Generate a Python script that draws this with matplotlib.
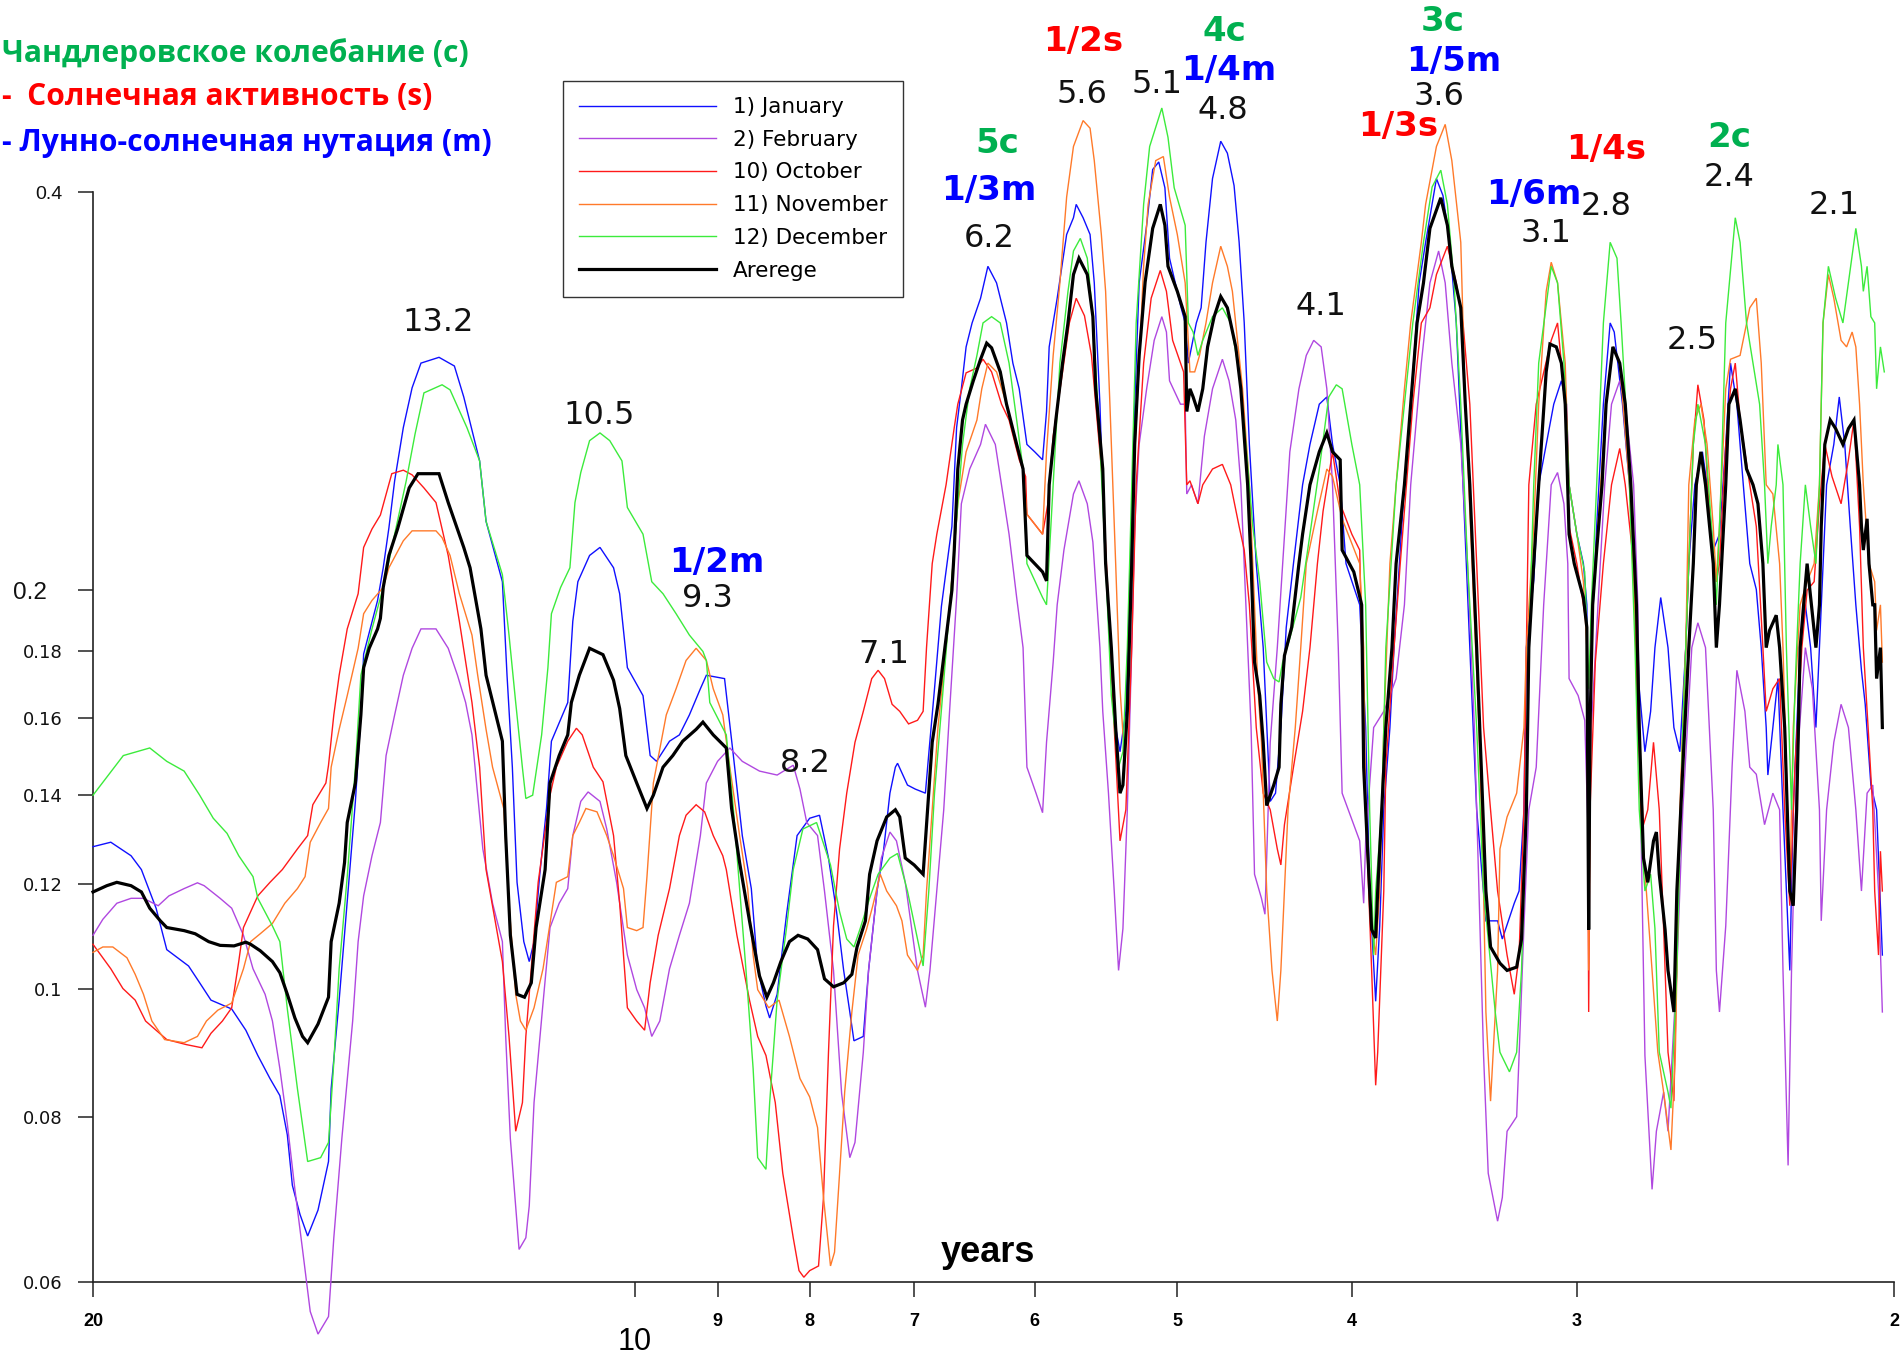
import matplotlib
matplotlib.use("Agg")
import matplotlib.pyplot as plt
from matplotlib.ticker import NullLocator

# ---------------- data (period in years, amplitude) ----------------
jan_period = [20, 19.55, 19.05, 18.8, 18.45, 18.2, 17.7, 17.45, 17.2, 16.75, 16.45, 16.2, 15.95, 15.75, 15.6, 15.5, 15.35, 15.2, 15.0, 14.8, 14.75, 14.6, 14.45, 14.3, 14.2, 14.15, 13.9, 13.8, 13.7, 13.6, 13.45, 13.3, 13.15, 12.85, 12.6,
              12.45, 12.2, 12.1, 11.85, 11.78, 11.7, 11.63, 11.53, 11.45, 11.38, 11.3, 11.2, 11.13, 10.9, 10.83, 10.76, 10.6, 10.46, 10.28, 10.2, 10.1, 9.9, 9.81, 9.73, 9.57, 9.45, 9.33, 9.2, 9.13, 8.92, 8.82, 8.72, 8.62, 8.55, 8.46, 8.42, 8.34, 8.24, 8.13, 8.0, 7.9,
              7.81, 7.73, 7.66, 7.6, 7.56, 7.47, 7.42, 7.34, 7.28, 7.22, 7.17, 7.15, 7.06, 6.99, 6.9, 6.87, 6.82, 6.76, 6.67, 6.63, 6.59, 6.55, 6.5, 6.43, 6.37, 6.3, 6.22, 6.17, 6.12, 6.06, 6.0, 5.94, 5.91, 5.89, 5.83, 5.76, 5.71, 5.69, 5.64, 5.59, 5.56, 5.52, 5.49, 5.45, 5.41, 5.38, 5.34, 5.3, 5.28, 5.25, 5.2, 5.16, 5.12, 5.08, 5.05, 4.98,
              4.95, 4.93, 4.91, 4.88, 4.85, 4.82, 4.78, 4.73, 4.69, 4.65, 4.62, 4.59, 4.56, 4.52, 4.48, 4.44, 4.41, 4.38, 4.35, 4.31, 4.26, 4.22, 4.17, 4.13, 4.1, 4.06, 4.03, 3.96, 3.93, 3.91, 3.88, 3.86, 3.84, 3.81, 3.79, 3.74, 3.71, 3.67, 3.64, 3.59, 3.56, 3.53, 3.5, 3.47, 3.44, 3.41, 3.37, 3.32, 3.3, 3.25, 3.23, 3.21, 3.2, 3.17, 3.15,
              3.12, 3.09, 3.06, 3.04, 3.03, 3.0, 2.975, 2.962, 2.955, 2.945, 2.925, 2.9, 2.875, 2.86, 2.83, 2.805, 2.785, 2.77, 2.75, 2.73, 2.715, 2.695, 2.67, 2.65, 2.63, 2.61, 2.6, 2.58, 2.555, 2.54, 2.52, 2.5, 2.48, 2.465, 2.445, 2.425, 2.405, 2.385, 2.37, 2.355, 2.35, 2.335, 2.32, 2.305, 2.285, 2.275, 2.255, 2.24, 2.225, 2.21, 2.2, 2.18, 2.16, 2.145, 2.13, 2.115, 2.1, 2.085, 2.075, 2.06, 2.045, 2.03]
jan_value = [0.128, 0.129, 0.126, 0.123, 0.115, 0.107, 0.104, 0.101, 0.098, 0.0965, 0.093, 0.089, 0.0855, 0.083, 0.0775, 0.071, 0.0675, 0.065, 0.068, 0.074, 0.084, 0.098, 0.1165, 0.1385, 0.161, 0.179, 0.1965, 0.208, 0.223, 0.242, 0.2655, 0.2845, 0.297, 0.300, 0.2955,
             0.28, 0.2505, 0.2255, 0.203, 0.1725, 0.147, 0.1203, 0.1085, 0.1048, 0.1085, 0.1215, 0.1368, 0.1538, 0.1645, 0.1895, 0.203, 0.2125, 0.2155, 0.208, 0.1988, 0.1748, 0.1665, 0.150, 0.1485, 0.1538, 0.1555, 0.161, 0.1685, 0.1725, 0.1715, 0.150, 0.1305, 0.119, 0.1035, 0.097, 0.095, 0.099, 0.1138, 0.1305, 0.1345, 0.1352,
             0.1255, 0.1143, 0.1032, 0.096, 0.0913, 0.092, 0.1032, 0.1185, 0.127, 0.1405, 0.147, 0.148, 0.1425, 0.1415, 0.1405, 0.1505, 0.1685, 0.1945, 0.2235, 0.2655, 0.284, 0.3055, 0.3185, 0.3325, 0.3515, 0.3415, 0.3185, 0.297, 0.284, 0.2578, 0.2545, 0.251, 0.273, 0.3055, 0.3325, 0.3715, 0.3825, 0.3915, 0.3825, 0.3715, 0.3415, 0.2765, 0.2205, 0.181, 0.1575, 0.151, 0.162, 0.2235, 0.2765, 0.3415, 0.3775, 0.416, 0.4215, 0.403, 0.3565, 0.3285,
             0.3185, 0.297, 0.3055, 0.3185, 0.327, 0.3665, 0.4095, 0.437, 0.428, 0.4045, 0.3665, 0.3185, 0.2578, 0.2095, 0.181, 0.1385, 0.1405, 0.1575, 0.1875, 0.2095, 0.2403, 0.2578, 0.2765, 0.28, 0.2578, 0.2403, 0.2095, 0.195, 0.1575, 0.1185, 0.0978, 0.1115, 0.1365, 0.1575, 0.181, 0.2403, 0.2765, 0.3415, 0.3665, 0.4095, 0.3975, 0.3665, 0.3185, 0.2403, 0.181, 0.1365, 0.1125, 0.1125, 0.109, 0.116, 0.1185, 0.1365, 0.181, 0.2035, 0.2403,
             0.2578, 0.2765, 0.288, 0.2765, 0.2403, 0.2205, 0.2095, 0.195, 0.1365, 0.181, 0.2235, 0.2765, 0.3185, 0.3135, 0.2765, 0.2403, 0.2095, 0.1685, 0.151, 0.162, 0.181, 0.1975, 0.181, 0.1575, 0.151, 0.181, 0.2095, 0.2403, 0.2545, 0.2403, 0.2145, 0.2205, 0.2578, 0.297, 0.2765, 0.2403, 0.2095, 0.2003, 0.181, 0.1575, 0.145, 0.1575, 0.1715, 0.1365, 0.1032, 0.1365, 0.181, 0.195, 0.181, 0.1575, 0.181, 0.2403, 0.2578, 0.28, 0.2578, 0.2235, 0.195, 0.174, 0.164, 0.1425, 0.1365, 0.106]

feb_period = [20, 19.75, 19.4, 19.05, 18.75, 18.4, 18.15, 17.8, 17.5, 17.35, 17.0, 16.75, 16.5, 16.3, 16.05, 15.9, 15.75, 15.6, 15.45, 15.3, 15.15, 15.0, 14.8, 14.7, 14.55, 14.35, 14.25, 14.15, 14.0, 13.85, 13.75, 13.6, 13.45, 13.3, 13.15, 12.9, 12.7, 12.55,
              12.42, 12.32, 12.15, 12.0, 11.85, 11.8, 11.73, 11.6, 11.5, 11.45, 11.38, 11.25, 11.15, 11.02, 10.9, 10.83, 10.72, 10.62, 10.46, 10.37, 10.24, 10.1, 9.98, 9.88, 9.79, 9.69, 9.57, 9.45, 9.33, 9.2, 9.13, 9.0, 8.86, 8.72, 8.53, 8.34, 8.17, 8.1, 8.03, 7.92, 7.85,
              7.76, 7.68, 7.6, 7.55, 7.47, 7.42, 7.34, 7.3, 7.22, 7.16, 7.08, 6.97, 6.9, 6.86, 6.8, 6.74, 6.69, 6.63, 6.59, 6.52, 6.43, 6.39, 6.31, 6.26, 6.2, 6.14, 6.09, 6.06, 5.99, 5.94, 5.91, 5.86, 5.83, 5.78, 5.71, 5.67, 5.61, 5.57, 5.52, 5.5, 5.46, 5.42, 5.39, 5.36, 5.33, 5.3, 5.28, 5.25, 5.2, 5.15, 5.1, 5.07, 5.05, 4.98,
              4.95, 4.94, 4.91, 4.87, 4.83, 4.78, 4.72, 4.68, 4.64, 4.61, 4.58, 4.55, 4.53, 4.49, 4.47, 4.44, 4.4, 4.37, 4.33, 4.28, 4.24, 4.2, 4.16, 4.13, 4.1, 4.07, 4.05, 3.99, 3.96, 3.94, 3.93, 3.89, 3.84, 3.81, 3.78, 3.74, 3.71, 3.66, 3.62, 3.58, 3.55, 3.52, 3.48, 3.45, 3.42, 3.4, 3.38, 3.36, 3.32, 3.3, 3.28, 3.24, 3.23, 3.21, 3.19, 3.16, 3.13, 3.1,
              3.075, 3.05, 3.035, 3.03, 2.995, 2.97, 2.955, 2.945, 2.92, 2.895, 2.87, 2.84, 2.82, 2.79, 2.775, 2.765, 2.75, 2.725, 2.71, 2.685, 2.67, 2.64, 2.62, 2.59, 2.57, 2.545, 2.52, 2.51, 2.5, 2.48, 2.46, 2.445, 2.42, 2.405, 2.385, 2.36, 2.335, 2.315, 2.305, 2.29, 2.28, 2.265, 2.24, 2.22, 2.2, 2.195, 2.18, 2.16, 2.14, 2.12, 2.1, 2.085, 2.07, 2.055, 2.04, 2.03]
feb_value = [0.1097, 0.1128, 0.116, 0.117, 0.117, 0.1155, 0.1175, 0.119, 0.1202, 0.1196, 0.117, 0.115, 0.1097, 0.1035, 0.099, 0.0945, 0.087, 0.079, 0.0705, 0.0635, 0.057, 0.0548, 0.0565, 0.0648, 0.077, 0.0945, 0.1085, 0.1175, 0.126, 0.1335, 0.150, 0.161, 0.1725, 0.1808, 0.187, 0.187, 0.1808, 0.1725,
             0.1645, 0.1555, 0.1275, 0.116, 0.1085, 0.092, 0.077, 0.0635, 0.0648, 0.0685, 0.082, 0.0975, 0.1112, 0.116, 0.119, 0.1305, 0.1385, 0.1408, 0.1385, 0.132, 0.1203, 0.106, 0.0998, 0.0967, 0.092, 0.0945, 0.1035, 0.1097, 0.116, 0.1305, 0.143, 0.1485, 0.152, 0.1485, 0.146, 0.145, 0.1475, 0.1415, 0.1335, 0.1305, 0.1185,
             0.1032, 0.0833, 0.0745, 0.0765, 0.0895, 0.1032, 0.1185, 0.1255, 0.1313, 0.1293, 0.1203, 0.1032, 0.0968, 0.1032, 0.1185, 0.1365, 0.162, 0.1975, 0.2325, 0.247, 0.2578, 0.267, 0.2578, 0.2403, 0.2205, 0.1975, 0.181, 0.147, 0.1405, 0.1358, 0.1535, 0.1765, 0.195, 0.2145, 0.2365, 0.242, 0.2325, 0.2175, 0.181, 0.162, 0.1405, 0.1185, 0.1032, 0.111, 0.1365, 0.181, 0.2235, 0.2578, 0.284, 0.309, 0.322, 0.3135, 0.288, 0.2765,
             0.2765, 0.2365, 0.2403, 0.2325, 0.2615, 0.284, 0.299, 0.288, 0.269, 0.2403, 0.195, 0.1575, 0.122, 0.117, 0.1138, 0.1535, 0.181, 0.2095, 0.2545, 0.284, 0.301, 0.309, 0.3055, 0.284, 0.2403, 0.181, 0.1405, 0.133, 0.1293, 0.116, 0.1293, 0.1575, 0.162, 0.1665, 0.1715, 0.195, 0.2403, 0.297, 0.3415, 0.361, 0.3415, 0.297, 0.2578, 0.2095, 0.1575, 0.1185, 0.089, 0.0725, 0.0667, 0.0695, 0.078, 0.080, 0.089, 0.1115, 0.1365, 0.147, 0.195, 0.2403,
             0.2455, 0.2325, 0.2095, 0.1715, 0.1665, 0.1595, 0.127, 0.1575, 0.195, 0.2403, 0.2765, 0.288, 0.2765, 0.2403, 0.195, 0.1365, 0.089, 0.0705, 0.078, 0.0835, 0.078, 0.1032, 0.1365, 0.181, 0.189, 0.181, 0.1365, 0.1032, 0.096, 0.1115, 0.147, 0.174, 0.162, 0.147, 0.1452, 0.133, 0.1405, 0.1365, 0.1032, 0.0735, 0.1032, 0.147, 0.181, 0.1685, 0.1365, 0.1125, 0.1365, 0.1535, 0.164, 0.1575, 0.1365, 0.1185, 0.1405, 0.1425, 0.1185, 0.096]

oct_period = [20, 19.55, 19.25, 18.95, 18.7, 18.45, 18.2, 17.75, 17.4, 17.2, 16.95, 16.75, 16.6, 16.5, 16.2, 15.95, 15.7, 15.4, 15.2, 15.1, 14.85, 14.8, 14.7, 14.6, 14.45, 14.25, 14.15, 14.0, 13.85, 13.65, 13.45, 13.3, 13.1, 12.9, 12.7,
              12.52, 12.32, 12.2, 12.1, 11.85, 11.75, 11.65, 11.55, 11.5, 11.42, 11.32, 11.15, 11.06, 10.9, 10.78, 10.7, 10.55, 10.42, 10.28, 10.2, 10.1, 9.98, 9.88, 9.81, 9.71, 9.57, 9.45, 9.37, 9.25, 9.15, 9.05, 8.94, 8.9, 8.78, 8.64, 8.55, 8.46, 8.36, 8.28, 8.17, 8.11, 8.06,
              8.0, 7.91, 7.86, 7.81, 7.76, 7.7, 7.63, 7.55, 7.47, 7.39, 7.33, 7.27, 7.2, 7.13, 7.05, 6.97, 6.92, 6.89, 6.84, 6.8, 6.72, 6.65, 6.62, 6.55, 6.46, 6.41, 6.34, 6.26, 6.2, 6.12, 6.07, 6.06, 5.94, 5.9, 5.86, 5.79, 5.74, 5.69, 5.63, 5.58, 5.55, 5.5, 5.46, 5.42, 5.38, 5.34, 5.3, 5.27, 5.22, 5.17, 5.11, 5.07, 5.03, 4.96,
              4.94, 4.92, 4.87, 4.84, 4.78, 4.72, 4.67, 4.62, 4.59, 4.56, 4.52, 4.48, 4.44, 4.4, 4.38, 4.36, 4.31, 4.26, 4.22, 4.18, 4.15, 4.1, 4.06, 4.0, 3.96, 3.95, 3.93, 3.9, 3.88, 3.87, 3.84, 3.83, 3.79, 3.76, 3.73, 3.7, 3.66, 3.62, 3.59, 3.54, 3.5, 3.47, 3.44, 3.41, 3.38, 3.35, 3.32, 3.28, 3.25, 3.23, 3.21, 3.2, 3.19, 3.16, 3.1,
              3.075, 3.045, 3.03, 3.0, 2.975, 2.962, 2.955, 2.95, 2.93, 2.9, 2.87, 2.84, 2.82, 2.79, 2.775, 2.755, 2.74, 2.72, 2.7, 2.685, 2.67, 2.65, 2.635, 2.62, 2.6, 2.585, 2.57, 2.55, 2.53, 2.51, 2.5, 2.48, 2.465, 2.45, 2.435, 2.405, 2.385, 2.365, 2.355, 2.335, 2.315, 2.3, 2.285, 2.27, 2.25, 2.235, 2.215, 2.2, 2.185, 2.165, 2.14, 2.12, 2.105, 2.09, 2.08, 2.065, 2.055, 2.05, 2.04, 2.035, 2.03]
oct_value = [0.108, 0.1035, 0.100, 0.098, 0.0945, 0.093, 0.0915, 0.0907, 0.0902, 0.0925, 0.0945, 0.0967, 0.1048, 0.1112, 0.1175, 0.1203, 0.123, 0.1275, 0.1305, 0.1377, 0.143, 0.1475, 0.161, 0.1725, 0.187, 0.1988, 0.2155, 0.2225, 0.228, 0.245, 0.2465, 0.2445, 0.239, 0.233, 0.2125,
             0.1895, 0.1645, 0.147, 0.123, 0.1048, 0.092, 0.078, 0.082, 0.092, 0.1035, 0.1203, 0.14, 0.147, 0.1538, 0.1573, 0.1555, 0.147, 0.1433, 0.1305, 0.116, 0.0967, 0.0945, 0.093, 0.101, 0.1097, 0.119, 0.1305, 0.1352, 0.1377, 0.136, 0.1305, 0.126, 0.123, 0.1097, 0.098, 0.092, 0.089, 0.082, 0.0725, 0.0648, 0.0612, 0.0605,
             0.0612, 0.0617, 0.0695, 0.0895, 0.1115, 0.1275, 0.1405, 0.1535, 0.162, 0.1715, 0.174, 0.1715, 0.164, 0.162, 0.1585, 0.1595, 0.162, 0.181, 0.2095, 0.2205, 0.2403, 0.2655, 0.2765, 0.292, 0.2945, 0.299, 0.2925, 0.2765, 0.269, 0.251, 0.2438, 0.2283, 0.2205, 0.2325, 0.2615, 0.2925, 0.3185, 0.3325, 0.3225, 0.301, 0.2765, 0.2403, 0.195, 0.1575, 0.1293, 0.1365, 0.181, 0.2403, 0.297, 0.3325, 0.349, 0.3365, 0.309, 0.2925,
             0.2403, 0.242, 0.2325, 0.2403, 0.247, 0.249, 0.2403, 0.2235, 0.2145, 0.195, 0.1575, 0.1405, 0.1365, 0.1275, 0.124, 0.133, 0.147, 0.162, 0.181, 0.2095, 0.2295, 0.2545, 0.2325, 0.2205, 0.2145, 0.181, 0.1365, 0.1032, 0.0845, 0.0895, 0.1185, 0.147, 0.181, 0.2095, 0.2403, 0.2765, 0.3185, 0.327, 0.3465, 0.364, 0.3415, 0.3185, 0.2765, 0.2095, 0.1575, 0.1365, 0.1185, 0.106, 0.099, 0.106, 0.1365, 0.181, 0.2403, 0.2765, 0.309,
             0.3185, 0.2765, 0.2235, 0.2095, 0.195, 0.1875, 0.096, 0.1365, 0.1765, 0.2095, 0.2403, 0.256, 0.2403, 0.2095, 0.1575, 0.133, 0.1365, 0.1535, 0.1365, 0.111, 0.0895, 0.0822, 0.1185, 0.1575, 0.2095, 0.2578, 0.286, 0.269, 0.2235, 0.203, 0.2095, 0.2578, 0.284, 0.297, 0.269, 0.2403, 0.2235, 0.181, 0.162, 0.1685, 0.1715, 0.1365, 0.1155, 0.147, 0.181, 0.2, 0.203, 0.2325, 0.2578, 0.2438, 0.2325, 0.251, 0.269, 0.2235, 0.181, 0.1535, 0.1365, 0.1185, 0.106, 0.127, 0.1185]

nov_period = [20, 19.75, 19.5, 19.15, 18.95, 18.75, 18.55, 18.25, 17.8, 17.5, 17.3, 17.05, 16.75, 16.5, 16.35, 16.15, 15.9, 15.65, 15.4, 15.25, 15.15, 14.95, 14.8, 14.75, 14.6, 14.45, 14.25, 14.15, 14.0, 13.8, 13.7, 13.45, 13.3, 12.9, 12.8,
              12.67, 12.52, 12.32, 12.23, 12.1, 12.0, 11.83, 11.75, 11.65, 11.58, 11.5, 11.38, 11.25, 11.15, 11.06, 10.9, 10.83, 10.74, 10.65, 10.5, 10.37, 10.28, 10.15, 10.1, 9.98, 9.9, 9.85, 9.77, 9.61, 9.49, 9.37, 9.25, 9.13, 9.05, 8.94, 8.86, 8.75, 8.66, 8.6, 8.55, 8.43, 8.32, 8.21, 8.1, 8.0, 7.92,
              7.86, 7.79, 7.75, 7.7, 7.65, 7.58, 7.52, 7.44, 7.38, 7.31, 7.25, 7.16, 7.11, 7.06, 6.97, 6.92, 6.89, 6.84, 6.79, 6.72, 6.66, 6.62, 6.55, 6.46, 6.42, 6.37, 6.3, 6.22, 6.14, 6.09, 6.06, 5.94, 5.91, 5.86, 5.81, 5.76, 5.71, 5.64, 5.59, 5.56, 5.51, 5.48, 5.45, 5.41, 5.38, 5.35, 5.33, 5.29, 5.25, 5.22, 5.19, 5.14, 5.09, 5.05, 5.0, 4.95,
              4.92, 4.89, 4.86, 4.82, 4.78, 4.73, 4.69, 4.66, 4.6, 4.56, 4.54, 4.51, 4.49, 4.46, 4.43, 4.4, 4.38, 4.36, 4.34, 4.3, 4.27, 4.24, 4.18, 4.13, 4.1, 4.05, 3.96, 3.94, 3.93, 3.9, 3.88, 3.86, 3.84, 3.81, 3.78, 3.74, 3.71, 3.66, 3.64, 3.59, 3.55, 3.52, 3.48, 3.46, 3.43, 3.4, 3.38, 3.37, 3.35, 3.32, 3.31, 3.28, 3.24, 3.21, 3.2, 3.17, 3.15,
              3.12, 3.1, 3.075, 3.045, 3.03, 3.0, 2.975, 2.962, 2.955, 2.947, 2.94, 2.91, 2.89, 2.865, 2.84, 2.805, 2.78, 2.765, 2.745, 2.725, 2.705, 2.685, 2.66, 2.645, 2.63, 2.61, 2.6, 2.58, 2.56, 2.54, 2.52, 2.51, 2.5, 2.48, 2.465, 2.435, 2.405, 2.385, 2.37, 2.355, 2.335, 2.315, 2.305, 2.285, 2.275, 2.255, 2.235, 2.215, 2.2, 2.19, 2.175, 2.16, 2.14, 2.125, 2.11, 2.1, 2.09, 2.08, 2.065, 2.05, 2.045, 2.035, 2.03]
nov_value = [0.1065, 0.1075, 0.1075, 0.1055, 0.1025, 0.099, 0.0945, 0.0915, 0.091, 0.092, 0.0945, 0.0963, 0.0975, 0.1035, 0.1085, 0.110, 0.112, 0.116, 0.119, 0.1215, 0.129, 0.1335, 0.1368, 0.147, 0.157, 0.1665, 0.1808, 0.192, 0.1965, 0.201, 0.208, 0.218, 0.2218, 0.2218, 0.2192,
             0.2125, 0.1988, 0.185, 0.1725, 0.157, 0.147, 0.1368, 0.116, 0.099, 0.0945, 0.093, 0.0967, 0.1035, 0.112, 0.1203, 0.1215, 0.1305, 0.1335, 0.1368, 0.136, 0.1305, 0.126, 0.119, 0.1112, 0.1106, 0.1112, 0.1215, 0.143, 0.161, 0.1685, 0.177, 0.1808, 0.177, 0.1685, 0.161, 0.147, 0.1305, 0.119, 0.106, 0.0998, 0.0967, 0.098, 0.092, 0.0855, 0.0828, 0.0785,
             0.0695, 0.0617, 0.0632, 0.0725, 0.0835, 0.096, 0.106, 0.1108, 0.1155, 0.122, 0.1185, 0.1155, 0.1125, 0.106, 0.1032, 0.106, 0.1185, 0.1365, 0.1575, 0.181, 0.2095, 0.2325, 0.2545, 0.269, 0.284, 0.297, 0.2925, 0.2765, 0.2578, 0.247, 0.2283, 0.2205, 0.2545, 0.301, 0.3415, 0.3965, 0.433, 0.453, 0.447, 0.4225, 0.3715, 0.3365, 0.2765, 0.2095, 0.1685, 0.150, 0.164, 0.2403, 0.297, 0.3515, 0.3915, 0.4225, 0.4255, 0.3965, 0.3715, 0.3415,
             0.2925, 0.2925, 0.301, 0.3185, 0.3415, 0.364, 0.3515, 0.3365, 0.284, 0.2403, 0.2095, 0.1685, 0.1535, 0.1185, 0.1032, 0.0945, 0.1032, 0.1185, 0.1365, 0.1575, 0.181, 0.2095, 0.2295, 0.247, 0.2438, 0.2265, 0.2095, 0.181, 0.1365, 0.1115, 0.106, 0.1185, 0.1575, 0.2095, 0.2403, 0.284, 0.3185, 0.3665, 0.3915, 0.433, 0.450, 0.4225, 0.3665, 0.2765, 0.2095, 0.1575, 0.1185, 0.096, 0.0822, 0.1032, 0.1275, 0.1348, 0.1405, 0.1575, 0.181, 0.2235, 0.2765,
             0.3365, 0.354, 0.3415, 0.297, 0.2403, 0.2205, 0.203, 0.181, 0.1032, 0.1575, 0.195, 0.2403, 0.2765, 0.3055, 0.297, 0.2403, 0.181, 0.1365, 0.1185, 0.1032, 0.0895, 0.0835, 0.0755, 0.0895, 0.1365, 0.181, 0.2403, 0.269, 0.2765, 0.2578, 0.2235, 0.203, 0.2235, 0.284, 0.299, 0.301, 0.327, 0.3325, 0.297, 0.2403, 0.2365, 0.2095, 0.181, 0.1185, 0.1575, 0.195, 0.203, 0.2095, 0.2403, 0.3185, 0.3465, 0.3325, 0.309, 0.3055, 0.3135, 0.3055, 0.2765, 0.2403, 0.2095, 0.203, 0.1865, 0.195, 0.1765]

dec_period = [20, 19.24, 18.6, 18.2, 17.8, 17.45, 17.15, 16.85, 16.6, 16.3, 16.2, 15.9, 15.75, 15.6, 15.4, 15.2, 14.95, 14.8, 14.7, 14.6, 14.45, 14.3, 14.2, 14.0, 13.8, 13.6, 13.4, 13.25, 13.1, 12.8, 12.67,
              12.4, 12.2, 12.1, 11.85, 11.75, 11.65, 11.55, 11.5, 11.4, 11.27, 11.18, 11.13, 11.0, 10.87, 10.8, 10.72, 10.6, 10.46, 10.33, 10.17, 10.1, 9.9, 9.79, 9.65, 9.49, 9.33, 9.17, 9.13, 9.09, 8.9, 8.82, 8.75, 8.68, 8.6, 8.55, 8.46, 8.42, 8.34, 8.24, 8.17, 8.07, 7.93,
              7.79, 7.7, 7.63, 7.56, 7.5, 7.41, 7.33, 7.22, 7.15, 7.06, 6.97, 6.92, 6.87, 6.82, 6.75, 6.66, 6.58, 6.52, 6.46, 6.41, 6.34, 6.27, 6.2, 6.14, 6.09, 6.06, 5.94, 5.91, 5.86, 5.81, 5.75, 5.71, 5.66, 5.61, 5.57, 5.52, 5.48, 5.44, 5.39, 5.36, 5.33, 5.3, 5.27, 5.22, 5.18, 5.1, 5.06, 5.02,
              4.95, 4.93, 4.9, 4.87, 4.84, 4.78, 4.72, 4.67, 4.62, 4.58, 4.54, 4.5, 4.46, 4.42, 4.39, 4.37, 4.33, 4.27, 4.22, 4.17, 4.12, 4.08, 4.05, 4.0, 3.96, 3.93, 3.91, 3.89, 3.88, 3.85, 3.83, 3.78, 3.74, 3.7, 3.65, 3.61, 3.57, 3.54, 3.51, 3.48, 3.45, 3.41, 3.38, 3.33, 3.31, 3.27, 3.24, 3.22, 3.2, 3.19, 3.17, 3.15, 3.1,
              3.075, 3.05, 3.03, 3.0, 2.97, 2.962, 2.955, 2.945, 2.925, 2.9, 2.875, 2.85, 2.835, 2.81, 2.785, 2.77, 2.75, 2.73, 2.715, 2.7, 2.67, 2.66, 2.64, 2.62, 2.6, 2.585, 2.57, 2.545, 2.52, 2.51, 2.495, 2.48, 2.45, 2.435, 2.415, 2.395, 2.375, 2.36, 2.35, 2.34, 2.325, 2.32, 2.305, 2.295, 2.28, 2.27, 2.255, 2.24, 2.225, 2.21, 2.2, 2.19, 2.175, 2.155, 2.135, 2.12, 2.1, 2.085, 2.08, 2.07, 2.06, 2.05, 2.045, 2.035, 2.025]
dec_value = [0.14, 0.15, 0.152, 0.1485, 0.146, 0.14, 0.1345, 0.131, 0.126, 0.1215, 0.117, 0.1115, 0.1085, 0.0965, 0.084, 0.074, 0.0745, 0.0765, 0.088, 0.1035, 0.1215, 0.147, 0.1725, 0.187, 0.201, 0.2205, 0.242, 0.2625, 0.282, 0.286, 0.2835,
             0.2655, 0.2505, 0.2255, 0.2055, 0.185, 0.1645, 0.1468, 0.1392, 0.14, 0.1555, 0.1748, 0.192, 0.201, 0.208, 0.233, 0.2455, 0.2595, 0.263, 0.2595, 0.2505, 0.231, 0.2205, 0.203, 0.1988, 0.192, 0.185, 0.1798, 0.177, 0.1645, 0.1555, 0.1368, 0.119, 0.1035, 0.087, 0.0745, 0.073, 0.082, 0.098, 0.1112, 0.123, 0.132, 0.1335,
             0.124, 0.1143, 0.109, 0.1075, 0.111, 0.117, 0.122, 0.1255, 0.1265, 0.1185, 0.109, 0.104, 0.1185, 0.1405, 0.1665, 0.2095, 0.2578, 0.284, 0.301, 0.3185, 0.322, 0.3185, 0.297, 0.269, 0.247, 0.2095, 0.1975, 0.195, 0.2403, 0.297, 0.3365, 0.361, 0.369, 0.3565, 0.322, 0.2578, 0.2095, 0.1665, 0.147, 0.151, 0.181, 0.2403, 0.3185, 0.3915, 0.433, 0.463, 0.44, 0.403,
             0.3775, 0.3185, 0.3135, 0.301, 0.309, 0.322, 0.327, 0.3185, 0.2925, 0.2578, 0.2235, 0.203, 0.1765, 0.1715, 0.1705, 0.1765, 0.184, 0.1975, 0.2205, 0.247, 0.28, 0.286, 0.284, 0.2578, 0.2403, 0.195, 0.1365, 0.106, 0.1185, 0.1365, 0.181, 0.2403, 0.2765, 0.3185, 0.3665, 0.4035, 0.4155, 0.3915, 0.3415, 0.2765, 0.2095, 0.1575, 0.1185, 0.096, 0.0895, 0.0865, 0.0895, 0.1032, 0.1365, 0.181, 0.2403, 0.297, 0.3515,
             0.3415, 0.297, 0.2403, 0.2205, 0.2065, 0.1875, 0.1685, 0.195, 0.2403, 0.3185, 0.3665, 0.3565, 0.3185, 0.2578, 0.181, 0.1365, 0.1185, 0.122, 0.111, 0.0895, 0.0835, 0.0812, 0.1032, 0.1575, 0.2095, 0.2578, 0.2765, 0.2578, 0.2145, 0.195, 0.2403, 0.3185, 0.3825, 0.3665, 0.3185, 0.297, 0.2765, 0.2403, 0.2095, 0.2235, 0.2403, 0.2578, 0.2403, 0.181, 0.1365, 0.1685, 0.2095, 0.2403, 0.2235, 0.2095, 0.2403, 0.3185, 0.3515, 0.3325, 0.3185, 0.3415, 0.3755, 0.3515, 0.3365, 0.3515, 0.322, 0.3185, 0.284, 0.3055, 0.2925]

avg_period = [20, 19.65, 19.4, 19.05, 18.8, 18.6, 18.35, 18.2, 17.8, 17.55, 17.25, 17.0, 16.7, 16.45, 16.35, 16.15, 15.9, 15.75, 15.6, 15.45, 15.3, 15.2, 15.0, 14.8, 14.75, 14.6, 14.5, 14.45, 14.3, 14.2, 14.15, 14.05, 13.9, 13.85, 13.8, 13.7, 13.55, 13.45, 13.35, 13.2, 12.85, 12.7,
              12.45, 12.35, 12.18, 12.1, 11.85, 11.8, 11.73, 11.63, 11.52, 11.42, 11.35, 11.22, 11.15, 11.02, 10.9, 10.85, 10.74, 10.6, 10.42, 10.28, 10.2, 10.12, 9.98, 9.85, 9.77, 9.65, 9.53, 9.41, 9.25, 9.17, 9.05, 8.9, 8.84, 8.75, 8.64, 8.53, 8.45, 8.38, 8.3, 8.21, 8.12, 8.02, 7.92,
              7.85, 7.76, 7.66, 7.58, 7.53, 7.45, 7.41, 7.34, 7.25, 7.17, 7.13, 7.08, 7.0, 6.92, 6.89, 6.84, 6.79, 6.73, 6.67, 6.65, 6.62, 6.58, 6.55, 6.49, 6.43, 6.38, 6.34, 6.27, 6.22, 6.14, 6.09, 6.06, 5.94, 5.91, 5.89, 5.84, 5.79, 5.75, 5.71, 5.67, 5.61, 5.57, 5.55, 5.5, 5.48, 5.44, 5.41, 5.38, 5.36, 5.33, 5.3, 5.28, 5.25, 5.21, 5.16, 5.11, 5.08, 5.06, 5.0, 4.95,
              4.94, 4.92, 4.9, 4.87, 4.84, 4.81, 4.77, 4.73, 4.69, 4.64, 4.61, 4.57, 4.55, 4.53, 4.5, 4.48, 4.46, 4.42, 4.39, 4.38, 4.36, 4.32, 4.28, 4.26, 4.22, 4.17, 4.13, 4.1, 4.06, 4.05, 3.99, 3.95, 3.94, 3.92, 3.9, 3.88, 3.87, 3.85, 3.83, 3.8, 3.78, 3.74, 3.71, 3.68, 3.65, 3.62, 3.57, 3.54, 3.52, 3.48, 3.46, 3.44, 3.41, 3.39, 3.37, 3.35, 3.31, 3.28, 3.24, 3.22, 3.2, 3.19, 3.17, 3.15,
              3.12, 3.105, 3.08, 3.06, 3.045, 3.04, 3.03, 3.01, 2.975, 2.962, 2.955, 2.95, 2.94, 2.925, 2.905, 2.89, 2.865, 2.84, 2.82, 2.8, 2.78, 2.77, 2.755, 2.74, 2.72, 2.71, 2.7, 2.68, 2.67, 2.65, 2.64, 2.62, 2.6, 2.585, 2.575, 2.56, 2.545, 2.52, 2.51, 2.5, 2.48, 2.47, 2.45, 2.435, 2.415, 2.395, 2.38, 2.365, 2.355, 2.345, 2.325, 2.315, 2.3, 2.285, 2.275, 2.265, 2.255, 2.245, 2.235, 2.225, 2.21, 2.2, 2.195, 2.185, 2.17, 2.155, 2.135, 2.12, 2.105, 2.09, 2.085, 2.08, 2.07, 2.065, 2.055, 2.05, 2.045, 2.035, 2.03]
avg_value = [0.1183, 0.1196, 0.1203, 0.1196, 0.1183, 0.115, 0.1125, 0.1112, 0.1106, 0.110, 0.1085, 0.1078, 0.1077, 0.1084, 0.108, 0.1068, 0.1048, 0.1028, 0.099, 0.095, 0.092, 0.091, 0.094, 0.0985, 0.1085, 0.116, 0.1245, 0.1335, 0.143, 0.161, 0.1748, 0.1808, 0.187, 0.1905, 0.201, 0.2125, 0.2225, 0.2305, 0.239, 0.245, 0.245, 0.233,
             0.2155, 0.208, 0.187, 0.1725, 0.1538, 0.1305, 0.1097, 0.099, 0.0985, 0.101, 0.1112, 0.123, 0.143, 0.150, 0.1555, 0.1645, 0.1725, 0.1808, 0.1788, 0.171, 0.1628, 0.150, 0.143, 0.1368, 0.14, 0.147, 0.150, 0.1538, 0.157, 0.159, 0.1555, 0.152, 0.1368, 0.1245, 0.1125, 0.1022, 0.0985, 0.101, 0.1048, 0.1085, 0.1097, 0.109, 0.107,
             0.1017, 0.1003, 0.101, 0.1025, 0.1075, 0.1125, 0.122, 0.1293, 0.1348, 0.1365, 0.1348, 0.1255, 0.124, 0.122, 0.133, 0.1535, 0.164, 0.181, 0.200, 0.2145, 0.247, 0.269, 0.2765, 0.288, 0.299, 0.3075, 0.305, 0.2925, 0.2765, 0.2578, 0.247, 0.2125, 0.2065, 0.2033, 0.2403, 0.269, 0.297, 0.3185, 0.3465, 0.3565, 0.3465, 0.322, 0.284, 0.247, 0.2095, 0.181, 0.1575, 0.1405, 0.1425, 0.162, 0.2095, 0.2578, 0.301, 0.342, 0.3755, 0.3915, 0.3775, 0.3515, 0.3365, 0.322,
             0.273, 0.284, 0.28, 0.273, 0.284, 0.3055, 0.322, 0.3335, 0.327, 0.3055, 0.284, 0.2403, 0.2095, 0.1765, 0.1665, 0.1535, 0.1375, 0.1425, 0.147, 0.164, 0.1785, 0.1875, 0.2095, 0.2205, 0.2403, 0.2545, 0.263, 0.2545, 0.251, 0.2145, 0.2065, 0.195, 0.147, 0.127, 0.1108, 0.1092, 0.1185, 0.1365, 0.1575, 0.181, 0.2095, 0.2403, 0.2765, 0.3185, 0.3415, 0.3755, 0.396, 0.3775, 0.3515, 0.327, 0.2765, 0.2403, 0.181, 0.147, 0.1185, 0.1075, 0.1045, 0.1032, 0.1038, 0.109, 0.1365, 0.181, 0.2095, 0.2403,
             0.2925, 0.307, 0.3055, 0.297, 0.2765, 0.2578, 0.2205, 0.2095, 0.1975, 0.1875, 0.1108, 0.1575, 0.195, 0.2145, 0.2403, 0.2765, 0.3055, 0.297, 0.2765, 0.2403, 0.195, 0.1575, 0.1255, 0.1203, 0.1293, 0.1313, 0.122, 0.1108, 0.1032, 0.096, 0.1185, 0.147, 0.181, 0.2095, 0.2403, 0.2545, 0.2403, 0.2095, 0.181, 0.195, 0.2403, 0.2765, 0.284, 0.269, 0.247, 0.2403, 0.2325, 0.2095, 0.181, 0.1865, 0.1915, 0.181, 0.1575, 0.1185, 0.1155, 0.1365, 0.181, 0.195, 0.2095, 0.1975, 0.181, 0.195, 0.2235, 0.2578, 0.269, 0.265, 0.2578, 0.265, 0.269, 0.2403, 0.2235, 0.2145, 0.2265, 0.2095, 0.195, 0.195, 0.1715, 0.181, 0.1575]

series_names = ["1) January", "2) February", "10) October", "11) November", "12) December", "Arerege"]

x_ticks = [20, 10, 9, 8, 7, 6, 5, 4, 3, 2]
x_tick_labels = ["20", "10", "9", "8", "7", "6", "5", "4", "3", "2"]
y_ticks = [0.06, 0.08, 0.1, 0.12, 0.14, 0.16, 0.18, 0.2, 0.4]
y_tick_labels = ["0.06", "0.08", "0.1", "0.12", "0.14", "0.16", "0.18", "0.2", "0.4"]

# peak labels: text, period, amplitude, kind
peak_labels = [
    ("13.2", 12.87, 0.319, "n"), ("10.5", 10.47, 0.271, "n"), ("1/2m", 9.01, 0.210, "m"),
    ("9.3", 9.12, 0.197, "n"), ("7.1", 7.28, 0.179, "n"), ("8.2", 8.04, 0.148, "n"),
    ("5c", 6.29, 0.4355, "c"), ("1/3m", 6.36, 0.401, "m"), ("6.2", 6.36, 0.369, "n"),
    ("1/2s", 5.64, 0.520, "s"), ("5.6", 5.65, 0.474, "n"), ("5.1", 5.13, 0.482, "n"),
    ("4c", 4.71, 0.529, "c"), ("1/4m", 4.68, 0.494, "m"), ("4.8", 4.72, 0.461, "n"),
    ("4.1", 4.16, 0.328, "n"), ("1/3s", 3.77, 0.448, "s"), ("3c", 3.56, 0.538, "c"),
    ("1/5m", 3.51, 0.502, "m"), ("3.6", 3.58, 0.472, "n"), ("1/6m", 3.17, 0.398, "m"),
    ("3.1", 3.12, 0.372, "n"), ("1/4s", 2.89, 0.431, "s"), ("2.8", 2.89, 0.390, "n"),
    ("2c", 2.47, 0.440, "c"), ("2.4", 2.47, 0.410, "n"), ("2.5", 2.59, 0.309, "n"),
    ("2.1", 2.16, 0.391, "n"),
]

header_lines = [
    ("Чандлеровское колебание (c)", "c"),
    ("-  Солнечная активность (s)", "s"),
    ("- Лунно-солнечная нутация (m)", "m"),
]

# ---------------- styling ----------------
line_colors = ["#1010FF", "#B048E0", "#FF1A1A", "#FF7A2A", "#3CEB3C", "#000000"]
kind_colors = {"c": "#00B050", "s": "#FF0000", "m": "#0000FF", "n": "#000000"}

fig = plt.figure(figsize=(19.01, 13.58), dpi=100)
ax = fig.add_axes([0.04892, 0.05596, 0.94740, 0.87040])
ax.set_xscale("log")
ax.set_yscale("log")

data = [(jan_period, jan_value), (feb_period, feb_value), (oct_period, oct_value),
        (nov_period, nov_value), (dec_period, dec_value), (avg_period, avg_value)]
handles = []
for i, ((px, py), name, col) in enumerate(zip(data, series_names, line_colors)):
    lw = 2.3 if i == 5 else 1.0
    ln, = ax.plot(px, py, color=col, lw=lw, clip_on=False, zorder=3 + (2 if i == 5 else 0),
                  label=name, solid_joinstyle="miter")
    handles.append(ln)

ax.set_xlim(20, 2)
ax.set_ylim(0.06, 0.4695)

for s in ["top", "right"]:
    ax.spines[s].set_visible(False)
ax.spines["left"].set_bounds(0.06, 0.4)
for s in ["left", "bottom"]:
    ax.spines[s].set_color("#222222")
    ax.spines[s].set_linewidth(1.2)

ax.set_xticks(x_ticks)
xl = ax.set_xticklabels(x_tick_labels)
ax.set_yticks(y_ticks)
yl = ax.set_yticklabels(y_tick_labels)
ax.xaxis.set_minor_locator(NullLocator())
ax.yaxis.set_minor_locator(NullLocator())
ax.tick_params(axis="both", which="major", direction="out", length=11, width=1.1, color="#222222")
ax.tick_params(axis="x", pad=11)
ax.tick_params(axis="y", pad=10.8)

for lab in xl:
    lab.set_fontfamily(["Liberation Sans", "DejaVu Sans"])
    lab.set_fontweight("bold")
    lab.set_fontsize(13)
for lab in yl:
    lab.set_fontfamily(["DejaVu Sans"])
    lab.set_fontsize(13)
    lab.set_color("#111111")

# special labels
xticks_obj = ax.xaxis.get_major_ticks()
xticks_obj[1].set_pad(21.5)
xl[1].set_fontweight("normal")
xl[1].set_fontsize(22)
yticks_obj = ax.yaxis.get_major_ticks()
yticks_obj[7].set_pad(22)
yl[7].set_fontfamily(["Liberation Sans", "DejaVu Sans"])
yl[7].set_fontsize(17.5)
yl[8].set_fontfamily(["Liberation Sans", "DejaVu Sans"])
yl[8].set_fontsize(14)

# peak labels
for txt, px, py, kind in peak_labels:
    if kind == "n":
        ax.text(px, py, txt, ha="center", va="center", fontsize=23,
                family=["DejaVu Sans"], color="#111111", zorder=6)
    else:
        ax.text(px, py, txt, ha="center", va="center", fontsize=24.5, fontweight="bold",
                family=["DejaVu Sans"], color=kind_colors[kind], zorder=6)

# axis title inside plot
fig.text(0.5197, 0.078, "years", ha="center", va="center", fontsize=26, fontweight="bold",
         family=["Liberation Sans", "DejaVu Sans"])

# header lines (left-aligned at the figure edge)
header_y = [0.9605, 0.9285, 0.8945]
for (txt, kind), yy in zip(header_lines, header_y):
    fig.text(0.0012, yy, txt, ha="left", va="center", fontsize=21.6, fontweight="bold",
             family=["Open Sans", "DejaVu Sans"], color=kind_colors[kind])

leg = ax.legend(handles=handles, loc="upper left", bbox_to_anchor=(0.2959, 0.9404),
                bbox_transform=fig.transFigure, frameon=True, fancybox=False,
                edgecolor="#333333", framealpha=1.0, borderpad=0.75, labelspacing=0.59,
                handlelength=6.4, handletextpad=0.75, borderaxespad=0.0,
                prop={"family": "DejaVu Sans", "size": 15.5})
leg.get_frame().set_linewidth(1.0)
leg.set_zorder(10)

fig.savefig("out.png", dpi=100)
